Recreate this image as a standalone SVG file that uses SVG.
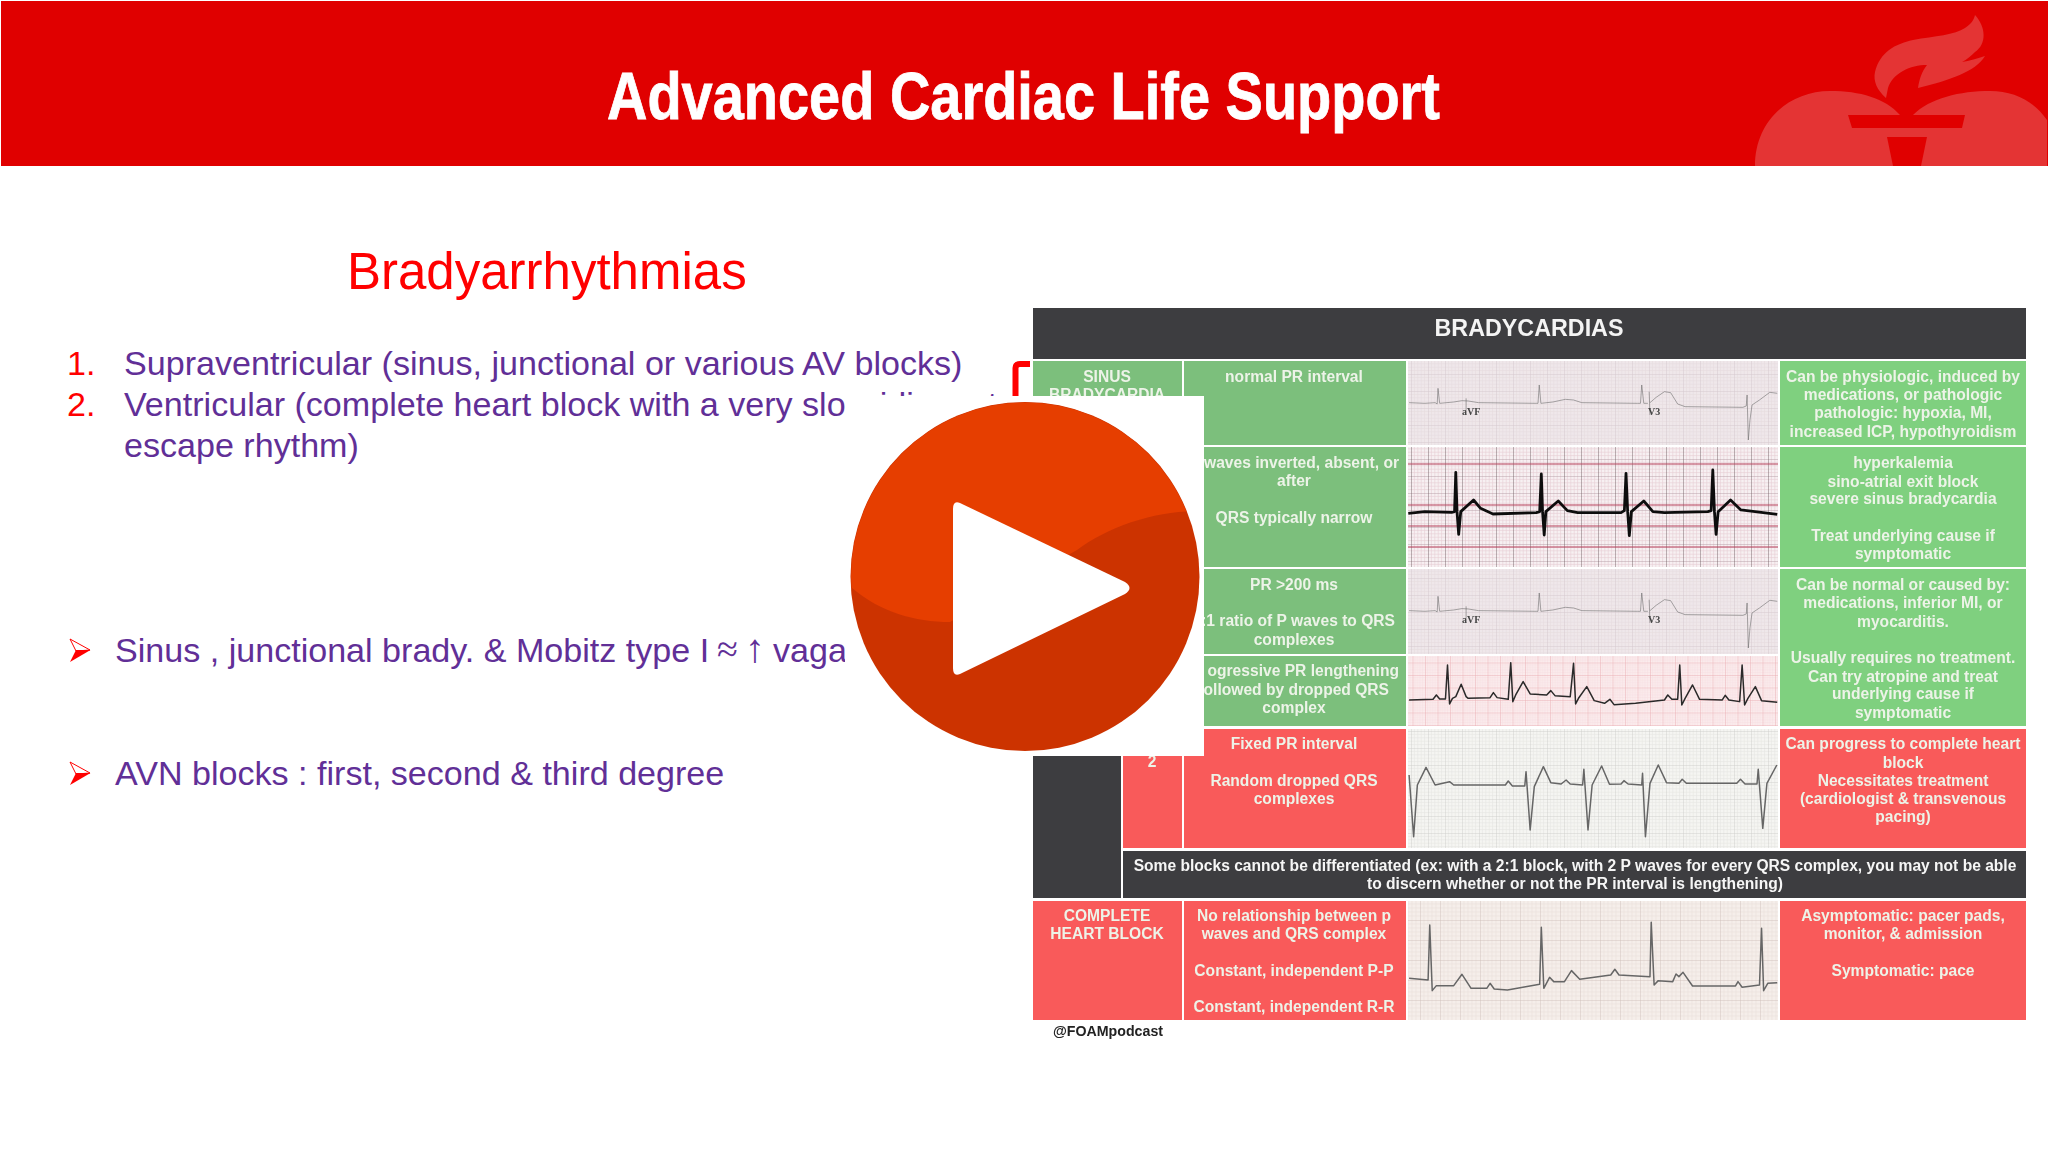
<svg xmlns="http://www.w3.org/2000/svg" xmlns:xlink="http://www.w3.org/1999/xlink" width="2048" height="1152" viewBox="0 0 2048 1152">
<style>
text{font-family:"Liberation Sans",Arial,sans-serif}
.p{fill:#612f97;font-size:34.1px}
.n{fill:#f00;font-size:34.1px}
.c{font-weight:bold;font-size:15.6px;fill:#edf3e8;text-anchor:middle}
.e{font-weight:bold;font-size:15.6px;fill:#edf3e8;text-anchor:end}
.gl{fill:#7bbf7b}
.gr{fill:#7fd07f}
.r{fill:#f95a5a}
.d{fill:#3e3e40}
.tr{fill:none;stroke:#666;stroke-width:1.5;stroke-linejoin:round;vector-effect:non-scaling-stroke}
.lead{font-family:"Liberation Serif",serif;font-weight:bold;font-size:10px;fill:#444}
.bul1{fill:#f00}
.bul2{fill:#fff;stroke:#f00;stroke-width:1}
</style>
<defs>
<pattern id="g1" width="17" height="17" patternUnits="userSpaceOnUse"><rect width="17" height="17" fill="#efe7ea"/><path d="M3.4 0V17M6.8 0V17M10.2 0V17M13.6 0V17M0 3.4H17M0 6.8H17M0 10.2H17M0 13.6H17" stroke="#e6dce0" stroke-width=".7"/><path d="M0 0V17M0 0H17" stroke="#d6c9cf" stroke-width="1"/></pattern>
<pattern id="g2" width="17" height="17" patternUnits="userSpaceOnUse"><rect width="17" height="17" fill="#f7f0f2"/><path d="M3.4 0V17M6.8 0V17M10.2 0V17M13.6 0V17M0 3.4H17M0 6.8H17M0 10.2H17M0 13.6H17" stroke="#e8ccd3" stroke-width=".6"/><path d="M0 0H17" stroke="#b29aa1" stroke-width=".9"/><path d="M0 0V17" stroke="#6d5a60" stroke-width=".9"/></pattern>
<pattern id="g4" width="12.5" height="12.5" patternUnits="userSpaceOnUse"><rect width="12.5" height="12.5" fill="#fbeced"/><path d="M2.5 0V12.5M5 0V12.5M7.5 0V12.5M10 0V12.5M0 2.5H12.5M0 5H12.5M0 7.5H12.5M0 10H12.5" stroke="#f8dde0" stroke-width=".5"/><path d="M0 0V12.5M0 0H12.5" stroke="#e8aab2" stroke-width=".9"/></pattern>
<pattern id="g5" width="17" height="17" patternUnits="userSpaceOnUse"><rect width="17" height="17" fill="#f5f5f2"/><path d="M3.4 0V17M6.8 0V17M10.2 0V17M13.6 0V17M0 3.4H17M0 6.8H17M0 10.2H17M0 13.6H17" stroke="#e6e6e3" stroke-width=".6"/><path d="M0 0V17M0 0H17" stroke="#cdcdca" stroke-width=".9"/></pattern>
<pattern id="g6" width="20" height="20" patternUnits="userSpaceOnUse"><rect width="20" height="20" fill="#f5eeea"/><path d="M4 0V20M8 0V20M12 0V20M16 0V20M0 4H20M0 8H20M0 12H20M0 16H20" stroke="#e9dfda" stroke-width=".6"/><path d="M0 0V20M0 0H20" stroke="#cfc0ba" stroke-width=".9"/></pattern>
<clipPath id="disc"><circle cx="1025" cy="576.5" r="174"/></clipPath>
<filter id="soft" x="0" y="0" width="1" height="1"><feGaussianBlur stdDeviation=".45"/></filter>
<path id="t1" d="M22 188L60 190L85 188L90 192L92 145L96 190L130 186L150 182L165 183L190 188L330 190L334 190L337 135L341 190L370 186L400 178L420 180L440 188L575 190L582 190L585 135L590 190L600 190M160 175V212M603 155L605 225M605 188L620 172L640 155L655 158L672 192L690 200L830 202L838 198L840 165L843 300L847 240L852 195L870 180L895 157L913 160"/>
</defs>
<rect width="2048" height="1152" fill="#fff"/>

<g id="header">
<rect x="1" y="1" width="2047" height="165" fill="#e00000"/>
<path d="M1755 166C1755 120 1790 91 1830 91C1860 91 1885 98 1900 115L1913 115C1930 98 1960 91 1990 91C2015 91 2035 102 2047 120V166Z" fill="#e43434"/>
<path d="M1975 15C1986 27 1987 44 1975 52C1971 56 1966 60 1962 62C1969 61 1978 58 1985 56C1975 72 1950 80 1918 88C1919 80 1922 71 1927 65C1910 65 1893 73 1888 88L1886 98C1877 90 1873 81 1875 72C1880 52 1895 44 1913 40C1935 36 1955 35 1965 28C1971 24 1974 20 1975 15Z" fill="#e43434"/>
<path d="M1848 115H1965L1962 128H1852ZM1887 137H1927L1921 166H1893Z" fill="#e00000"/>
<text x="607" y="119" font-size="66" font-weight="bold" fill="#fff" stroke="#fff" stroke-width=".8" textLength="833" lengthAdjust="spacingAndGlyphs">Advanced Cardiac Life Support</text>
</g>

<g id="slide-text">
<text x="347" y="289" font-size="51" fill="#f00">Bradyarrhythmias</text>
<text x="67" y="375" class="n">1.</text>
<text x="124" y="375" class="p">Supraventricular (sinus, junctional or various AV blocks)</text>
<text x="67" y="416" class="n">2.</text>
<text x="124" y="416" class="p">Ventricular (complete heart block with a very slow idiovent</text>
<text x="124" y="457" class="p">escape rhythm)</text>
<g id="bullet-1"><path class="bul2" d="M70 639L90 650L76 651Z"/><path class="bul1" d="M76 650L90.5 650L70 662Z"/></g>
<text x="115" y="662" class="p">Sinus , junctional brady. &amp; Mobitz type I <tspan x="717" font-family="Liberation Serif" font-size="38">≈</tspan> <tspan x="745" font-family="Liberation Serif" font-size="40">↑</tspan> <tspan x="773">vaga</tspan></text>
<g id="bullet-2"><path class="bul2" d="M70 762L90 773L76 774Z"/><path class="bul1" d="M76 773L90.5 773L70 785Z"/></g>
<text x="115" y="785" class="p">AVN blocks : first, second &amp; third degree</text>
<path id="red-bracket" d="M1035 364H1020Q1015.5 364 1015.5 368V398" fill="none" stroke="#f00" stroke-width="6"/>
</g>

<g id="table" filter="url(#soft)">
<rect x="1030" y="306" width="1000" height="720" fill="#fff"/>
<g id="table-head"><rect class="d" x="1033" y="308" width="993" height="51"/>
<text x="1529" y="336" font-size="23.3" font-weight="bold" fill="#f4f4f4" text-anchor="middle">BRADYCARDIAS</text></g>

<g id="ecg">
<rect x="1408" y="361" width="370" height="84" fill="url(#g1)"/>
<rect x="1408" y="447" width="370" height="120" fill="url(#g2)"/>
<path d="M1408 464H1778M1408 505H1778M1408 526H1778M1408 547H1778" stroke="#b5405a" stroke-width="1.1"/>
<rect x="1408" y="569" width="370" height="85" fill="url(#g1)"/>
<rect x="1408" y="656" width="370" height="70" fill="url(#g4)"/>
<rect x="1408" y="729" width="370" height="119" fill="url(#g5)"/>
<rect x="1408" y="901" width="370" height="119" fill="url(#g6)"/>
<g transform="translate(1400 340) scale(.4132 .3333)">
<use href="#t1" class="tr"/>
<use href="#t1" class="tr" y="624"/>
<path d="M20 520L60 515L125 517L132 515L135 397L138 515L142 583L147 515L178 480L195 505L225 522L330 518L338 515L342 402L345 515L349 585L353 515L383 483L405 512L430 518L535 518L543 512L547 400L551 515L555 587L560 515L590 483L612 515L640 518L745 515L753 512L757 390L761 515L765 583L770 515L800 480L825 510L913 523" class="tr" style="stroke:#111;stroke-width:2.8"/>
<path d="M22 1080L80 1078L88 1065L96 1077L110 1077L115 975L120 1092L127 1075L135 1070L148 1033L160 1070L165 1075L218 1073L226 1058L235 1073L262 1078L268 968L273 1085L280 1065L298 1025L315 1062L355 1065L365 1052L375 1067L412 1070L420 970L425 1092L432 1075L452 1040L470 1082L495 1090L508 1078L518 1094L570 1090L640 1080L648 1065L658 1078L672 1078L677 975L682 1095L690 1075L708 1035L725 1078L780 1080L787 1066L796 1080L822 1085L828 975L834 1095L842 1075L860 1040L875 1082L913 1087" class="tr" style="stroke:#2a2a2a"/>
</g>
<g transform="translate(1400 720) scale(.4132 .3333)">
<path d="M22 165L33 350L42 195L63 142L85 195L120 185L130 195L255 195L262 183L272 198L302 198L305 155L315 330L325 200L347 140L365 188L390 192L402 180L412 192L442 195L445 148L455 330L465 195L488 138L507 193L535 192L542 182L552 192L585 195L587 160L594 350L605 190L625 135L645 188L675 190L683 178L693 190L815 190L824 178L835 192L864 192L867 148L878 325L888 190L912 135" class="tr"/>
<path d="M22 775L68 780L72 615L78 812L88 797L130 797L150 763L172 805L210 805L218 790L228 807L260 810L338 793L342 622L348 805L362 772L372 785L398 785L415 752L435 778L510 765L520 748L530 765L605 770L608 607L615 795L625 782L660 785L668 762L675 770L685 757L708 798L812 798L818 785L828 802L870 795L875 625L880 812L890 790L913 788" class="tr"/>
</g>
<text x="1462" y="415" class="lead">aVF</text><text x="1648" y="415" class="lead">V3</text>
<text x="1462" y="623" class="lead">aVF</text><text x="1648" y="623" class="lead">V3</text>
</g>

<g id="row-sinus"><rect class="gl" x="1033" y="361" width="149" height="84"/><rect class="gl" x="1184" y="361" width="222" height="84"/><rect class="gr" x="1780" y="361" width="246" height="84"/>
<text class="c" x="1107" y="382">SINUS</text><text class="c" x="1107" y="400">BRADYCARDIA</text>
<text class="c" x="1294" y="382">normal PR interval</text>
<text class="c" x="1903" y="382">Can be physiologic, induced by</text><text class="c" x="1903" y="400">medications, or pathologic</text><text class="c" x="1903" y="418">pathologic: hypoxia, MI,</text><text class="c" x="1903" y="437">increased ICP, hypothyroidism</text></g>

<g id="row-junctional"><rect class="gl" x="1184" y="447" width="222" height="120"/><rect class="gr" x="1780" y="447" width="246" height="120"/>
<text class="e" x="1399" y="468">waves inverted, absent, or</text><text class="c" x="1294" y="486">after</text><text class="c" x="1294" y="523">QRS typically narrow</text>
<text class="c" x="1903" y="468">hyperkalemia</text><text class="c" x="1903" y="487">sino-atrial exit block</text><text class="c" x="1903" y="504">severe sinus bradycardia</text><text class="c" x="1903" y="541">Treat underlying cause if</text><text class="c" x="1903" y="559">symptomatic</text></g>

<g id="row-first-degree"><rect class="gl" x="1184" y="569" width="222" height="85"/><rect class="gr" x="1780" y="569" width="246" height="157"/>
<text class="c" x="1294" y="590">PR &gt;200 ms</text><text class="e" x="1395" y="626">:1 ratio of P waves to QRS</text><text class="c" x="1294" y="645">complexes</text>
<text class="c" x="1903" y="590">Can be normal or caused by:</text><text class="c" x="1903" y="608">medications, inferior MI, or</text><text class="c" x="1903" y="627">myocarditis.</text><text class="c" x="1903" y="663">Usually requires no treatment.</text><text class="c" x="1903" y="682">Can try atropine and treat</text><text class="c" x="1903" y="699">underlying cause if</text><text class="c" x="1903" y="718">symptomatic</text></g>

<g id="row-mobitz-1"><rect class="gl" x="1184" y="656" width="222" height="70"/>
<text class="e" x="1399" y="676">ogressive PR lengthening</text><text class="e" x="1389" y="695">ollowed by dropped QRS</text><text class="c" x="1294" y="713">complex</text></g>

<g id="row-mobitz-2"><rect class="d" x="1033" y="729" width="88" height="169"/><rect class="r" x="1123" y="729" width="59" height="119"/><rect class="r" x="1184" y="729" width="222" height="119"/><rect class="r" x="1780" y="729" width="246" height="119"/>
<text class="c" x="1152" y="767">2</text>
<text class="c" x="1294" y="749">Fixed PR interval</text><text class="c" x="1294" y="786">Random dropped QRS</text><text class="c" x="1294" y="804">complexes</text>
<text class="c" x="1903" y="749">Can progress to complete heart</text><text class="c" x="1903" y="768">block</text><text class="c" x="1903" y="786">Necessitates treatment</text><text class="c" x="1903" y="804">(cardiologist &amp; transvenous</text><text class="c" x="1903" y="822">pacing)</text></g>

<g id="row-note"><rect class="d" x="1123" y="851" width="903" height="47"/>
<text class="c" x="1575" y="871" style="fill:#f6f6f6">Some blocks cannot be differentiated (ex: with a 2:1 block, with 2 P waves for every QRS complex, you may not be able</text>
<text class="c" x="1575" y="889" style="fill:#f6f6f6">to discern whether or not the PR interval is lengthening)</text></g>

<g id="row-complete"><rect class="r" x="1033" y="901" width="149" height="119"/><rect class="r" x="1184" y="901" width="222" height="119"/><rect class="r" x="1780" y="901" width="246" height="119"/>
<text class="c" x="1107" y="921">COMPLETE</text><text class="c" x="1107" y="939">HEART BLOCK</text>
<text class="c" x="1294" y="921">No relationship between p</text><text class="c" x="1294" y="939">waves and QRS complex</text><text class="c" x="1294" y="976">Constant, independent P-P</text><text class="c" x="1294" y="1012">Constant, independent R-R</text>
<text class="c" x="1903" y="921">Asymptomatic: pacer pads,</text><text class="c" x="1903" y="939">monitor, &amp; admission</text><text class="c" x="1903" y="976">Symptomatic: pace</text></g>

<text id="credit" x="1053" y="1036" font-size="14.2" font-weight="bold" fill="#222">@FOAMpodcast</text>
</g>

<g id="play-button">
<rect x="845" y="396" width="359" height="360" fill="#fff"/>
<circle cx="1025" cy="576.5" r="174.5" fill="#cc3300"/>
<path clip-path="url(#disc)" d="M840 390H1210V512C1165 507 1110 525 1077 550L950 622C915 622 880 612 852 588H840Z" fill="#e63e00"/>
<path d="M960 503L1125 582Q1134 588 1125 594L960 674Q953 677 953 668V509Q953 500 960 503Z" fill="#fff"/>
</g>
</svg>
